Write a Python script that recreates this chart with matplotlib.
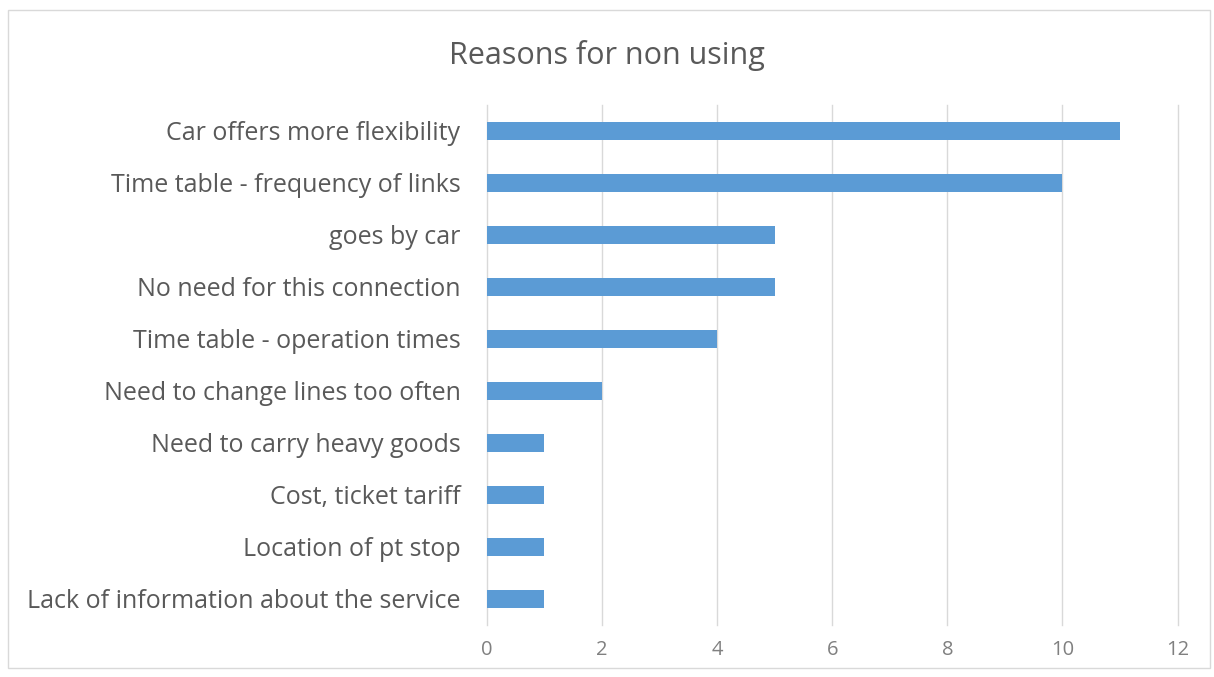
# bar chart: reasons for not using public transport
import matplotlib.pyplot as plt
from matplotlib.patches import Rectangle

plt.rcParams['font.family'] = ['Open Sans', 'DejaVu Sans']

# data, top to bottom as in the chart
reasons = [
    "Car offers more flexibility",
    "Time table - frequency of links",
    "goes by car",
    "No need for this connection",
    "Time table - operation times",
    "Need to change lines too often",
    "Need to carry heavy goods",
    "Cost, ticket tariff",
    "Location of pt stop",
    "Lack of information about the service",
]
counts = [11, 10, 5, 5, 4, 2, 1, 1, 1, 1]
xticks = [0, 2, 4, 6, 8, 10, 12]

fig = plt.figure(figsize=(12.14, 6.77), dpi=100)
ax = fig.add_axes([0.401, 0.077, 0.569, 0.768])

ypos = list(range(len(reasons)))[::-1]
ax.barh(ypos, counts, height=0.35, color="#5B9BD5", zorder=3)

ax.set_xlim(0, 12)
ax.set_ylim(-0.5, 9.5)
ax.set_xticks(xticks)
ax.set_yticks(ypos)
ax.set_yticklabels(reasons, fontsize=18, color="#595959")
ax.tick_params(axis='x', labelsize=14.5, colors="#808080", length=0, pad=11)
ax.tick_params(axis='y', length=0, pad=19)
ax.grid(axis='x', color="#D9D9D9", linewidth=1, zorder=0)
# keep the last gridline (at 12) fully visible
for gl in ax.get_xgridlines():
    gl.set_clip_on(False)
for s in ax.spines.values():
    s.set_visible(False)

fig.text(0.5, 0.918, "Reasons for non using", ha='center', va='center',
         fontsize=22, color="#595959")

# outer chart border
fig.patches.append(Rectangle((0.007, 0.013), 0.990, 0.972, transform=fig.transFigure,
                             fill=False, edgecolor="#D9D9D9", linewidth=1))

fig.savefig("out.png", dpi=100)
